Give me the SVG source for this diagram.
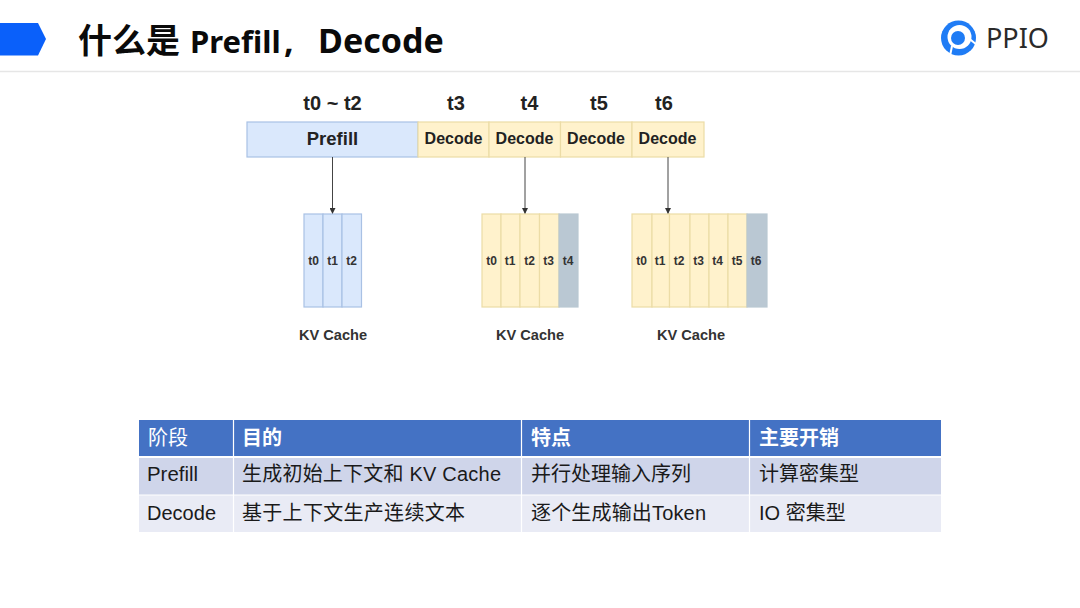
<svg xmlns="http://www.w3.org/2000/svg" width="1080" height="608" viewBox="0 0 1080 608">
<style>
text{font-family:"Liberation Sans","Noto Sans CJK SC",sans-serif}
.title{font-family:"Noto Sans","Noto Sans CJK SC",sans-serif;font-size:34px;font-weight:700;fill:#0a0a0a}
.t{font-size:20px;font-weight:700;fill:#222;text-anchor:middle}
.ph{font-size:16px;font-weight:700;fill:#222;text-anchor:middle}
.pf{font-size:18.500px}
.s{font-size:12px;font-weight:700;fill:#333;text-anchor:middle}
.kv{font-size:14.600px;font-weight:700;fill:#333;text-anchor:middle}
.blue{fill:#dae8fc;stroke:#a9c1e4;stroke-width:1.200}
.yel{fill:#fff2cc;stroke:#ecdca6;stroke-width:1.200}
.gry{fill:#bac8d3;stroke:#bac8d3;stroke-width:1.200}
.th{font-size:20px;font-weight:700;fill:#fff}
.td{font-size:20px;fill:#1a1a1a}
.conn{stroke:#444;stroke-width:1;fill:none;marker-end:url(#a)}
</style>
<defs><marker id="a" markerUnits="userSpaceOnUse" markerWidth="7" markerHeight="6" refX="6" refY="3" orient="auto"><path d="M0 0L6 3L0 6Z" fill="#333"/></marker></defs>
<rect width="1080" height="608" fill="#fff"/>
<g id="header">
<path d="M0 23H38L46 39L38 55.500H0Z" fill="#0a60fa"/>
<text class="title" x="78" y="52.500">什么是 <tspan x="190" font-size="31" style="font-size:31px">Prefill</tspan><tspan x="284">,</tspan><tspan x="318">Decode</tspan></text>
<line x1="0" y1="71.500" x2="1080" y2="71.500" stroke="#e6e6e6" stroke-width="1.500"/>
</g>
<g id="logo">
<circle cx="958.500" cy="38" r="17.500" fill="#1f7cf5"/>
<circle cx="959.500" cy="37" r="12" fill="#fff"/>
<circle cx="958" cy="38" r="7" fill="#1f7cf5"/>
<path d="M966 36L977 45M952 46L950 56" stroke="#fff" stroke-width="2" fill="none"/>
<text x="986" y="48" font-size="27" fill="#2a2a2a" style="font-family:'Noto Sans',sans-serif">PPIO</text>
</g>
<g id="time-labels">
<text class="t" x="332.500" y="110">t0 ~ t2</text>
<text class="t" x="456" y="110">t3</text>
<text class="t" x="529.500" y="110">t4</text>
<text class="t" x="599" y="110">t5</text>
<text class="t" x="664" y="110">t6</text>
</g>
<g id="timeline">
<rect class="blue" x="247" y="122" width="171" height="35"/><text class="ph pf" x="332.500" y="145">Prefill</text>
<rect class="yel" x="418" y="122" width="71" height="35"/><text class="ph" x="453.500" y="144">Decode</text>
<rect class="yel" x="489" y="122" width="71.500" height="35"/><text class="ph" x="524.500" y="144">Decode</text>
<rect class="yel" x="560.500" y="122" width="71.500" height="35"/><text class="ph" x="596" y="144">Decode</text>
<rect class="yel" x="632" y="122" width="72" height="35"/><text class="ph" x="667.500" y="144">Decode</text>
</g>
<g id="connectors">
<line class="conn" x1="332.500" y1="157" x2="332.500" y2="214"/>
<line class="conn" x1="525" y1="157" x2="525" y2="214"/>
<line class="conn" x1="668" y1="157" x2="668" y2="214"/>
</g>
<g id="cache-1">
<rect class="blue" x="304" y="214" width="19" height="93"/><rect class="blue" x="323" y="214" width="19" height="93"/><rect class="blue" x="342" y="214" width="19.500" height="93"/>
<text class="s" x="313.500" y="264.500">t0</text><text class="s" x="332.500" y="264.500">t1</text><text class="s" x="351.500" y="264.500">t2</text>
<text class="kv" x="333" y="339.500">KV Cache</text>
</g>
<g id="cache-2">
<rect class="yel" x="482" y="214" width="19" height="93"/><rect class="yel" x="501" y="214" width="19" height="93"/><rect class="yel" x="520" y="214" width="19.500" height="93"/><rect class="yel" x="539.500" y="214" width="19.500" height="93"/><rect class="gry" x="559" y="214" width="19" height="93"/>
<text class="s" x="491.500" y="264.500">t0</text><text class="s" x="510" y="264.500">t1</text><text class="s" x="529.500" y="264.500">t2</text><text class="s" x="548.500" y="264.500">t3</text><text class="s" x="568" y="264.500">t4</text>
<text class="kv" x="530" y="339.500">KV Cache</text>
</g>
<g id="cache-3">
<rect class="yel" x="632" y="214" width="20" height="93"/><rect class="yel" x="652" y="214" width="17.500" height="93"/><rect class="yel" x="669.500" y="214" width="20.500" height="93"/><rect class="yel" x="690" y="214" width="19" height="93"/><rect class="yel" x="709" y="214" width="19" height="93"/><rect class="yel" x="728" y="214" width="19" height="93"/><rect class="gry" x="747" y="214" width="20" height="93"/>
<text class="s" x="641.500" y="264.500">t0</text><text class="s" x="660" y="264.500">t1</text><text class="s" x="679" y="264.500">t2</text><text class="s" x="698.500" y="264.500">t3</text><text class="s" x="717.500" y="264.500">t4</text><text class="s" x="737" y="264.500">t5</text><text class="s" x="756" y="264.500">t6</text>
<text class="kv" x="691" y="339.500">KV Cache</text>
</g>
<g id="table">
<rect x="139" y="420" width="802" height="36" fill="#4472c4"/>
<rect x="139" y="458" width="802" height="36.500" fill="#cfd5ea"/>
<rect x="139" y="495.500" width="802" height="36.500" fill="#e9ebf5"/>
<path d="M233.500 420V532M521.500 420V532M749.500 420V532" stroke="#fff" stroke-width="1.200" fill="none"/>
<text class="th" x="148" y="444.500" style="font-weight:400">阶段</text><text class="th" x="242" y="444.500">目的</text><text class="th" x="531" y="444.500">特点</text><text class="th" x="759" y="444.500">主要开销</text>
<text class="td" x="147" y="481" textLength="51" lengthAdjust="spacingAndGlyphs">Prefill</text><text class="td" x="242" y="481" textLength="259">生成初始上下文和 KV Cache</text><text class="td" x="531" y="481">并行处理输入序列</text><text class="td" x="759" y="481">计算密集型</text>
<text class="td" x="147" y="520" textLength="69">Decode</text><text class="td" x="242" y="520" textLength="223">基于上下文生产连续文本</text><text class="td" x="531" y="520" textLength="175">逐个生成输出Token</text><text class="td" x="759" y="520">IO 密集型</text>
</g>
</svg>
